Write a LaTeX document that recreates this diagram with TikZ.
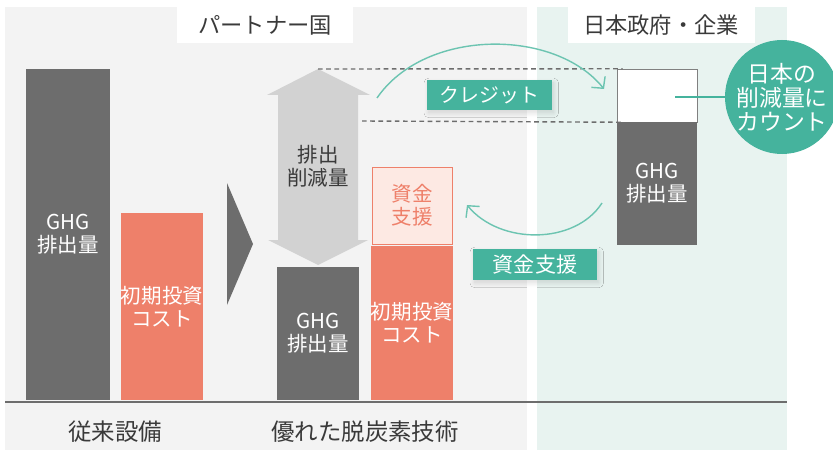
\documentclass[tikz,border=0pt]{standalone}
\usepackage{fontspec}
\setmainfont{Noto Sans CJK JP}
\usepackage{xcolor}
\usetikzlibrary{arrows.meta,shadows.blur}
\definecolor{ghggray}{HTML}{6D6D6D}
\definecolor{costred}{HTML}{EE806A}
\definecolor{aidpink}{HTML}{FDE9E3}
\definecolor{panelgray}{HTML}{F3F3F3}
\definecolor{panelteal}{HTML}{E8F3F0}
\definecolor{teal}{HTML}{45B39D}
\definecolor{flowteal}{HTML}{6CC4B1}
\definecolor{cutgray}{HTML}{D2D2D2}
\definecolor{textgray}{HTML}{3A3A3A}
\def\unitpx{0.03cm}
\tikzset{
	bar/.style={inner sep=0pt, align=center, text=white,
			font=\fontsize{17.5pt}{19.5pt}\selectfont},
	title/.style={fill=white, inner sep=0pt, text=textgray,
			minimum height=36*\unitpx, font=\fontsize{19pt}{22pt}\selectfont},
	caption/.style={text=textgray, font=\fontsize{20pt}{22pt}\selectfont},
	tag/.style={fill=teal, text=white, inner sep=0pt,
			font=\fontsize{17pt}{19pt}\selectfont,
			blur shadow={shadow xshift=1.5pt, shadow yshift=-2.5pt, shadow blur radius=4pt,
					shadow blur steps=16, shadow opacity=14}},
	flow/.style={draw=flowteal, line width=1.2pt, -{Straight Barb[length=7pt,width=15pt,line width=1.2pt]}},
	level/.style={draw=ghggray, line width=1.2pt, dash pattern=on 4pt off 3pt}
}

\begin{document}
\begin{tikzpicture}[x=0.03cm, y=-0.03cm]
	\useasboundingbox (0,0) rectangle (833,450);
	% panels
	\fill[panelgray] (5,7) rectangle (527,450);
	\fill[panelteal] (537,7) rectangle (787,450);
	\node[title, minimum width=176*\unitpx] (partner) at (265,25) {パートナー国};
	\node[title, minimum width=187*\unitpx] (japan) at (661,25) {日本政府・企業};

	% old equipment
	\node[bar, fill=ghggray, minimum width=84*\unitpx, minimum height=331*\unitpx] (oldghg) at (68,234.5) {GHG\\排出量};
	\node[bar, fill=costred, minimum width=82*\unitpx, minimum height=187*\unitpx] (oldcost) at (162,306.5) {初期投資\\コスト};
	\fill[ghggray] (227,183) -- (253,244) -- (227,305) -- cycle;

	% new technology
	\fill[cutgray] (318,69) -- (370,95) -- (358,95) -- (358,240) -- (368,240) -- (318,265)
		-- (268,240) -- (278,240) -- (278,95) -- (267,95) -- cycle;
	\node[bar, text=textgray] (cut) at (318,166) {排出\\削減量};
	\node[bar, fill=ghggray, minimum width=82*\unitpx, minimum height=133*\unitpx] (newghg) at (318,333.5) {GHG\\排出量};
	\node[bar, fill=costred, minimum width=82*\unitpx, minimum height=154*\unitpx] (newcost) at (412,323) {初期投資\\コスト};
	\node[bar, fill=aidpink, draw=costred, text=costred, minimum width=80*\unitpx, minimum height=77*\unitpx] (aid) at (412,205.5) {資金\\支援};

	% japan side
	\node[bar, fill=white, draw=gray, minimum width=80*\unitpx, minimum height=53*\unitpx] (credit) at (657,95.5) {};
	\node[bar, fill=ghggray, minimum width=80*\unitpx, minimum height=123*\unitpx] (jpghg) at (657,183.5) {GHG\\排出量};
	\node[circle, fill=teal, text=white, inner sep=0pt, minimum size=114*\unitpx, align=center,
		font=\fontsize{19.5pt}{20.5pt}\selectfont] (count) at (782,97) {日本の\\削減量に\\カウント};
	\coordinate (hook) at (675,97);
	\draw[teal, line width=1.2pt] (hook) -- (count.west);

	% levels
	\coordinate (cuttop) at (318,69);
	\coordinate (cutbottom) at (362,121);
	\draw[level] (cuttop) -- ([xshift=5pt]credit.north west);
	\draw[level] (cutbottom) -- ([xshift=5pt]credit.south west);

	% flows
	\coordinate (cfrom) at (377,98);
	\coordinate (cto) at (604,89);
	\coordinate (afrom) at (602,203);
	\coordinate (ato) at (467,205);
	\draw[flow] (cfrom) .. controls (425,28) and (555,28) .. (cto);
	\draw[flow] (afrom) .. controls (575,245) and (500,245) .. (ato);
	\node[tag, minimum width=125*\unitpx, minimum height=30*\unitpx] (creditlabel) at (489.5,95) {クレジット};
	\node[tag, minimum width=124*\unitpx, minimum height=31*\unitpx, font=\fontsize{18pt}{20pt}\selectfont] (aidlabel) at (535,264.5) {資金支援};

	% baseline
	\draw[ghggray, line width=1.8pt] (5,402) -- (787,402);
	\node[caption] (oldtech) at (115,432) {従来設備};
	\node[caption] (newtech) at (365,432) {優れた脱炭素技術};
\end{tikzpicture}
\end{document}
